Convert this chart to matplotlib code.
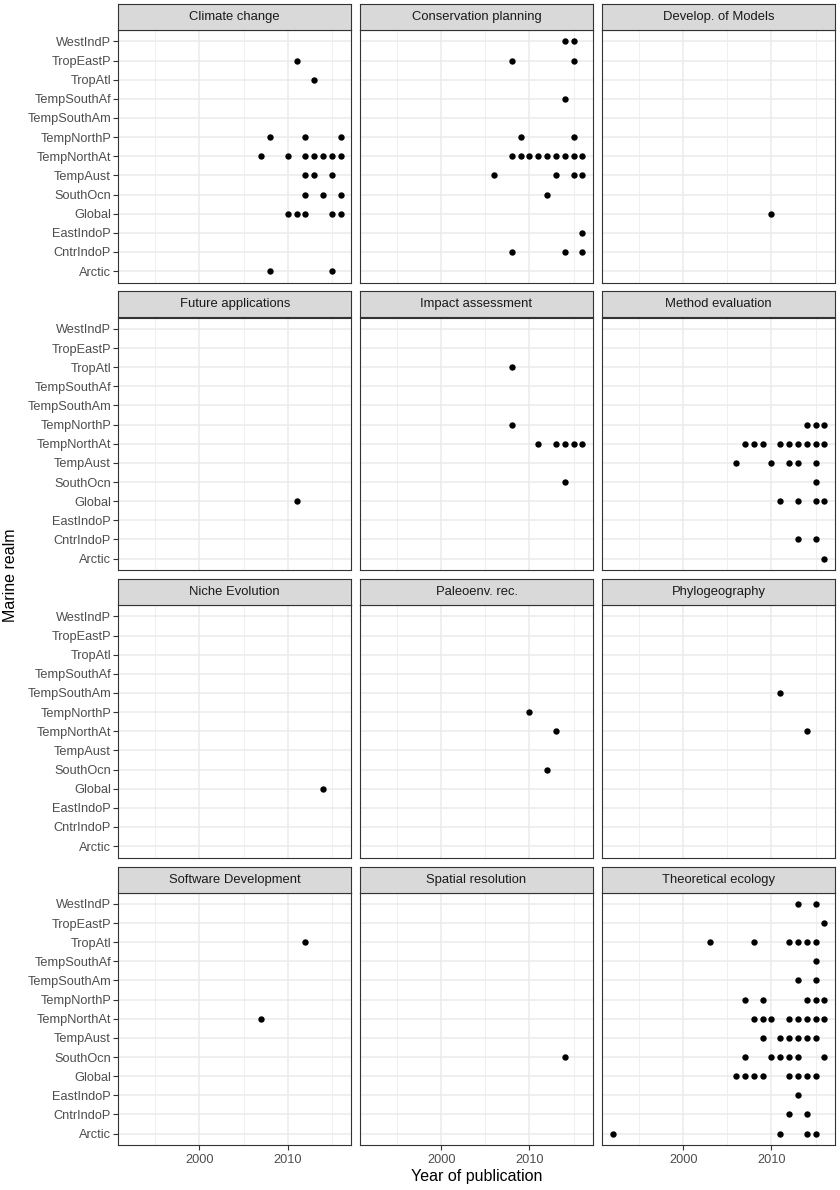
import matplotlib.pyplot as plt
from matplotlib.ticker import FixedLocator

plt.rcParams['font.family'] = ['Liberation Sans', 'DejaVu Sans']

realms = ["Arctic", "CntrIndoP", "EastIndoP", "Global", "SouthOcn", "TempAust",
          "TempNorthAt", "TempNorthP", "TempSouthAm", "TempSouthAf", "TropAtl",
          "TropEastP", "WestIndP"]

topics = ["Climate change", "Conservation planning", "Develop. of Models",
          "Future applications", "Impact assessment", "Method evaluation",
          "Niche Evolution", "Paleoenv. rec.", "Phylogeography",
          "Software Development", "Spatial resolution", "Theoretical ecology"]

# years of publication per realm, one dict per topic
climate_change = {
    "TropEastP": [2011], "TropAtl": [2013], "TempNorthP": [2008, 2012, 2016],
    "TempNorthAt": [2007, 2010, 2012, 2013, 2014, 2015, 2016],
    "TempAust": [2012, 2013, 2015], "SouthOcn": [2012, 2014, 2016],
    "Global": [2010, 2011, 2012, 2015, 2016], "Arctic": [2008, 2015]}
conservation_planning = {
    "WestIndP": [2014, 2015], "TropEastP": [2008, 2015], "TempSouthAf": [2014],
    "TempNorthP": [2009, 2015],
    "TempNorthAt": [2008, 2009, 2010, 2011, 2012, 2013, 2014, 2015, 2016],
    "TempAust": [2006, 2013, 2015, 2016], "SouthOcn": [2012],
    "EastIndoP": [2016], "CntrIndoP": [2008, 2014, 2016]}
develop_models = {"Global": [2010]}
future_applications = {"Global": [2011]}
impact_assessment = {
    "TropAtl": [2008], "TempNorthP": [2008],
    "TempNorthAt": [2011, 2013, 2014, 2015, 2016], "SouthOcn": [2014]}
method_evaluation = {
    "TempNorthP": [2014, 2015, 2016],
    "TempNorthAt": [2007, 2008, 2009, 2011, 2012, 2013, 2014, 2015, 2016],
    "TempAust": [2006, 2010, 2012, 2013, 2015], "SouthOcn": [2015],
    "Global": [2011, 2013, 2015, 2016], "CntrIndoP": [2013, 2015],
    "Arctic": [2016]}
niche_evolution = {"Global": [2014]}
paleoenv_rec = {"TempNorthP": [2010], "TempNorthAt": [2013], "SouthOcn": [2012]}
phylogeography = {"TempSouthAm": [2011], "TempNorthAt": [2014]}
software_development = {"TropAtl": [2012], "TempNorthAt": [2007]}
spatial_resolution = {"SouthOcn": [2014]}
theoretical_ecology = {
    "WestIndP": [2013, 2015], "TropEastP": [2016],
    "TropAtl": [2003, 2008, 2012, 2013, 2014, 2015], "TempSouthAf": [2015],
    "TempSouthAm": [2013, 2015], "TempNorthP": [2007, 2009, 2014, 2015, 2016],
    "TempNorthAt": [2008, 2009, 2010, 2012, 2013, 2014, 2015, 2016],
    "TempAust": [2009, 2011, 2012, 2013, 2014, 2015],
    "SouthOcn": [2007, 2010, 2011, 2012, 2013, 2016],
    "Global": [2006, 2007, 2008, 2009, 2012, 2013, 2014, 2015],
    "EastIndoP": [2013], "CntrIndoP": [2012, 2014],
    "Arctic": [1992, 2011, 2014, 2015]}

panels = [climate_change, conservation_planning, develop_models,
          future_applications, impact_assessment, method_evaluation,
          niche_evolution, paleoenv_rec, phylogeography,
          software_development, spatial_resolution, theoretical_ecology]

W, H = 840, 1190
fig = plt.figure(figsize=(W / 100, H / 100), dpi=100)

col_left = [118.3, 360, 602]
pw = 233
row_top = [30, 317.5, 605, 892.5]
ph = 252.5
sh = 26
border = '#333333'

for k, (name, d) in enumerate(zip(topics, panels)):
    r, c = divmod(k, 3)
    x0 = col_left[c] / W
    y0 = 1 - (row_top[r] + ph) / H
    ax = fig.add_axes([x0, y0, pw / W, ph / H])
    xs = []
    ys = []
    for realm, years in d.items():
        for yr in years:
            xs.append(yr)
            ys.append(realms.index(realm))
    ax.scatter(xs, ys, s=21, c='black', linewidths=0, zorder=3)
    ax.set_xlim(1990.8, 2017.2)
    ax.set_ylim(-0.6, len(realms) - 0.4)
    ax.set_xticks([2000, 2010])
    ax.xaxis.set_minor_locator(FixedLocator([1995, 2005, 2015]))
    ax.set_yticks(range(len(realms)))
    ax.grid(True, which='major', color='#EBEBEB', lw=1.1, zorder=0)
    ax.grid(True, which='minor', axis='x', color='#EBEBEB', lw=0.55, zorder=0)
    ax.set_axisbelow(True)
    for sp in ax.spines.values():
        sp.set_color(border)
        sp.set_linewidth(0.8)
    ax.tick_params(which='minor', length=0)
    ax.tick_params(which='major', length=3.4, width=0.8, color=border,
                   labelsize=9.2, labelcolor='#4D4D4D', pad=1.8)
    if c == 0:
        ax.set_yticklabels(realms)
    else:
        ax.tick_params(axis='y', length=0, labelleft=False)
    if r == 3:
        ax.set_xticklabels(['2000', '2010'])
        ax.tick_params(axis='x', pad=3)
    else:
        ax.tick_params(axis='x', length=0, labelbottom=False)

    sax = fig.add_axes([x0, 1 - row_top[r] / H, pw / W, sh / H])
    sax.set_facecolor('#D9D9D9')
    sax.set_xticks([])
    sax.set_yticks([])
    for sp in sax.spines.values():
        sp.set_color(border)
        sp.set_linewidth(0.8)
    sax.text(0.5, 0.5, name, ha='center', va='center', fontsize=9.4,
             color='#1A1A1A', transform=sax.transAxes)

fig.text(476.5 / W, 1 - 1177 / H, 'Year of publication', ha='center',
         va='center', fontsize=11.5)
fig.text(11 / W, 1 - 575 / H, 'Marine realm', ha='center', va='center',
         rotation=90, fontsize=11.5)

fig.savefig('out.png', dpi=100)
